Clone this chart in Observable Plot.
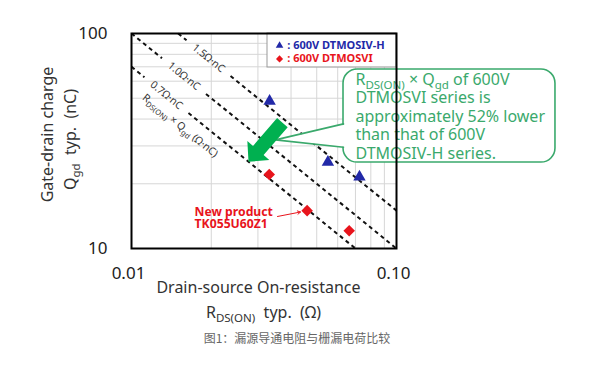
<!DOCTYPE html>
<html><head><meta charset="utf-8">
<script src="https://cdn.jsdelivr.net/npm/d3@7"></script>
<script src="https://cdn.jsdelivr.net/npm/@observablehq/plot@0.6"></script>
<style>
body{margin:0;background:#fff;}
#chart svg{display:block;}
#cap{width:590px;box-sizing:border-box;padding-left:4px;margin-top:2px;text-align:center;font:12px/16px "Noto Sans CJK SC","Noto Sans",sans-serif;color:#666;}
</style></head>
<body><div id="chart"></div><div id="cap"></div>
<script>
// ---- data ----
const ivhName = ": 600V DTMOSIV-H";
const ivhRds = [0.0332, 0.0551, 0.0725];
const ivhQgd = [48.4, 25.2, 21.5];
const viName = ": 600V DTMOSVI";
const viRds = [0.0331, 0.0460, 0.0663];
const viQgd = [22.1, 15.0, 12.1];

const fomValues = [1.5, 1.0, 0.7];
const fomLabels = ["1.5Ω·nC", "1.0Ω·nC", "0.7Ω·nC"];
const fomLabelRds = [0.01953, 0.01578, 0.01355];

const xTicks = [0.01, 0.1];
const xTickLabels = ["0.01", "0.10"];
const yTicks = [10, 100];
const yTickLabels = ["10", "100"];
const xGrid = [0.02, 0.03, 0.04, 0.05, 0.06, 0.07, 0.08, 0.09];
const yGrid = [20, 30, 40, 50, 60, 70, 80, 90];

const yTitle1 = "Gate-drain charge";
const yTitle2 = "Q_{gd}  typ.\u00a0\u00a0(nC)";
const xTitle1 = "Drain-source On-resistance";
const xTitle2 = "R_{DS(ON)}  typ.\u00a0\u00a0(Ω)";
const fomAxisLabel = "R_{DS(ON)} × Q_{gd} (Ω·nC)";
const calloutText = "R_{DS(ON)} × Q_{gd} of 600V\nDTMOSVI series is\napproximately 52% lower\nthan that of 600V\nDTMOSIV-H series.";
const newProductText = "New product\nTK055U60Z1";
const captionText = "图1：漏源导通电阻与栅漏电荷比较";

// annotation anchors (data units)
const fomAxisLabelPos = [0.01527, 37.3];
const legendBox = {x1: 0.0326, x2: 0.1, y1: 69.5, y2: 100};
const legendSymX = 0.0362, legendTextX = 0.0387, legendY = [87.9, 76.2];
const calloutBox = {x1: 0.0631, x2: 0.398, y1: 25.1, y2: 68.0};
const calloutTextPos = [0.070, 41.4];
const pointerPts = [[0.0631, 38.0], [0.03494, 32.0], [0.0631, 29.6]];
const bigArrow = {tail: [0.0371, 38.5], tip: [0.02764, 25.3]};
const newProductPos = [0.0173, 13.9];
const newProductArrow = {x1: 0.03556, y1: 14.09, x2: 0.04342, y2: 14.78};

// ---- layout & colours ----
const W = 590, H = 328;
const mL = 131, mR = 194, mT = 33, mB = 80;
const blue = "#2229a8", red = "#e8141c", green = "#00b050", calloutGreen = "#3aa96c";

const xs = d3.scaleLog([0.01, 0.1], [mL, W - mR]);
const ys = d3.scaleLog([10, 100], [H - mB, mT]);

const ivh = ivhRds.map((r, i) => ({r, q: ivhQgd[i]}));
const vi = viRds.map((r, i) => ({r, q: viQgd[i]}));

// dashed iso-FOM lines with a gap around each label
const gapPx = 22;
const segs = [];
fomValues.forEach((k, i) => {
  const xa = Math.max(0.01, k / 100), xb = Math.min(0.1, k / 10);
  const cx = xs(fomLabelRds[i]);
  const g1 = xs.invert(cx - gapPx), g2 = xs.invert(cx + gapPx);
  segs.push({x1: xa, y1: k / xa, x2: g1, y2: k / g1});
  segs.push({x1: g2, y1: k / g2, x2: xb, y2: k / xb});
});
const fomLabelData = fomValues.map((k, i) => ({x: fomLabelRds[i], y: k / fomLabelRds[i], t: fomLabels[i]}));
const angle = Math.atan2(ys(10) - ys(100), xs(0.1) - xs(0.01)) * 180 / Math.PI;

function arrowPolygon(tail, tip, sh, hh, hl) {
  const t = [xs(tail[0]), ys(tail[1])], p = [xs(tip[0]), ys(tip[1])];
  const dx = p[0] - t[0], dy = p[1] - t[1], L = Math.hypot(dx, dy);
  const u = [dx / L, dy / L], n = [-u[1], u[0]];
  const b = [p[0] - u[0] * hl, p[1] - u[1] * hl];
  return [[t, sh], [b, sh], [b, hh], [p, 0], [b, -hh], [b, -sh], [t, -sh]]
    .map(([q, s]) => ({x: xs.invert(q[0] + n[0] * s), y: ys.invert(q[1] + n[1] * s)}));
}
const arrowPts = arrowPolygon(bigArrow.tail, bigArrow.tip, 7, 14.5, 15);
const pointerEdge = pointerPts.map(([x, y]) => ({x, y}));
const pointerCover = pointerPts.map(([x, y], i) => ({x: i === 1 ? x : xs.invert(xs(x) + 5), y}));

const svg = Plot.plot({
  width: W, height: H,
  marginLeft: mL, marginRight: mR, marginTop: mT, marginBottom: mB,
  x: {type: "log", domain: [0.01, 0.1]},
  y: {type: "log", domain: [10, 100]},
  style: {fontFamily: '"Noto Sans", sans-serif', fontSize: "16px", color: "#222", background: "white"},
  marks: [
    Plot.ruleX(xGrid, {stroke: "#d6d6d6", strokeWidth: 1}),
    Plot.ruleY(yGrid, {stroke: "#d6d6d6", strokeWidth: 1}),
    Plot.link(segs, {x1: "x1", y1: "y1", x2: "x2", y2: "y2", stroke: "#111", strokeWidth: 2, strokeDasharray: "4,3.5"}),
    Plot.text(fomLabelData, {x: "x", y: "y", text: "t", rotate: angle, fontSize: 10.5, fill: "#333"}),
    Plot.text([fomAxisLabel], {x: () => fomAxisLabelPos[0], y: () => fomAxisLabelPos[1], text: d => d, rotate: angle, fontSize: 10.5, fill: "#333"}),
    // legend
    Plot.rect([legendBox], {x1: "x1", x2: "x2", y1: "y1", y2: "y2", fill: "white", stroke: "#999", strokeWidth: 1}),
    Plot.dot([legendY[0]], {x: () => legendSymX, y: d => d, symbol: "triangle", r: 2.8, fill: blue, stroke: "none"}),
    Plot.dot([legendY[1]], {x: () => legendSymX, y: d => d, symbol: "diamond2", r: 3.2, fill: red, stroke: "none"}),
    Plot.text([ivhName], {x: () => legendTextX, y: () => legendY[0], text: d => d, textAnchor: "start", fontSize: 11, fontWeight: "bold", fill: blue}),
    Plot.text([viName], {x: () => legendTextX, y: () => legendY[1], text: d => d, textAnchor: "start", fontSize: 11, fontWeight: "bold", fill: red}),
    // data points
    Plot.dot(ivh, {x: "r", y: "q", symbol: "triangle", r: 4.6, fill: blue, stroke: "none"}),
    Plot.dot(vi, {x: "r", y: "q", symbol: "diamond2", r: 5.2, fill: red, stroke: "none"}),
    // new product annotation
    Plot.text([newProductText], {x: () => newProductPos[0], y: () => newProductPos[1], text: d => d, textAnchor: "start", lineAnchor: "middle", lineHeight: 1.02, fontSize: 12.2, fontWeight: "bold", fill: red}),
    Plot.arrow([newProductArrow], {x1: "x1", y1: "y1", x2: "x2", y2: "y2", stroke: red, strokeWidth: 1, headLength: 5}),
    // callout
    Plot.rect([calloutBox], {x1: "x1", x2: "x2", y1: "y1", y2: "y2", fill: "white", stroke: calloutGreen, strokeWidth: 1.6, rx: 14}),
    Plot.line(pointerCover, {x: "x", y: "y", fill: "white", stroke: "none", curve: "linear-closed"}),
    Plot.line(pointerEdge, {x: "x", y: "y", stroke: calloutGreen, strokeWidth: 1.6, fill: "none"}),
    Plot.line(arrowPts, {x: "x", y: "y", fill: green, stroke: "none", curve: "linear-closed"}),
    Plot.text([calloutText], {x: () => calloutTextPos[0], y: () => calloutTextPos[1], text: d => d, textAnchor: "start", lineAnchor: "middle", lineHeight: 1.15, fontSize: 16, fill: calloutGreen}),
    // frame & axes
    Plot.frame({stroke: "#000", strokeWidth: 2}),
    Plot.axisX(xTicks, {tickSize: 0, tickPadding: 18.5, dx: -3, fontSize: 17, label: null, tickFormat: d => xTickLabels[xTicks.indexOf(d)]}),
    Plot.axisY(yTicks, {tickSize: 0, tickPadding: 24, fontSize: 17, label: null, tickFormat: d => yTickLabels[yTicks.indexOf(d)]}),
    Plot.text([yTitle1], {frameAnchor: "left", textAnchor: "middle", lineAnchor: "middle", text: d => d, rotate: -90, dx: -84, dy: -6.5, fontSize: 16, fill: "#333"}),
    Plot.text([yTitle2], {frameAnchor: "left", textAnchor: "middle", lineAnchor: "middle", text: d => d, rotate: -90, dx: -61, dy: -1.5, fontSize: 16, fill: "#333"}),
    Plot.text([xTitle1], {frameAnchor: "bottom", textAnchor: "middle", lineAnchor: "middle", text: d => d, dx: -5.5, dy: 39, fontSize: 16, fill: "#333"}),
    Plot.text([xTitle2], {frameAnchor: "bottom", textAnchor: "middle", lineAnchor: "middle", text: d => d, dx: -0.5, dy: 64, fontSize: 16, fill: "#333"})
  ]
});
document.getElementById("chart").append(svg);
document.getElementById("cap").textContent = captionText;

// subscripts: turn "_{...}" into lowered, smaller tspans
function applySubs(root) {
  const nodes = Array.from(root.querySelectorAll("text, tspan"));
  nodes.forEach(n => {
    if (n.childNodes.length !== 1 || n.firstChild.nodeType !== 3) return;
    const s = n.textContent;
    if (!s.includes("_{")) return;
    const fs = parseFloat(getComputedStyle(n).fontSize) || 16;
    const sh = 0.27 * fs;
    n.textContent = "";
    const re = /_\{([^}]*)\}/g;
    let last = 0, m, shifted = false;
    const add = (txt, dy, size) => {
      const t = document.createElementNS("http://www.w3.org/2000/svg", "tspan");
      if (dy) t.setAttribute("dy", dy);
      if (size) t.setAttribute("font-size", size);
      t.textContent = txt;
      n.appendChild(t);
    };
    while ((m = re.exec(s))) {
      if (m.index > last) { add(s.slice(last, m.index), shifted ? -sh : 0); shifted = false; }
      add(m[1], sh, 0.72 * fs); shifted = true;
      last = re.lastIndex;
    }
    if (last < s.length) add(s.slice(last), shifted ? -sh : 0);
  });
}
applySubs(svg);
</script>
</body></html>
